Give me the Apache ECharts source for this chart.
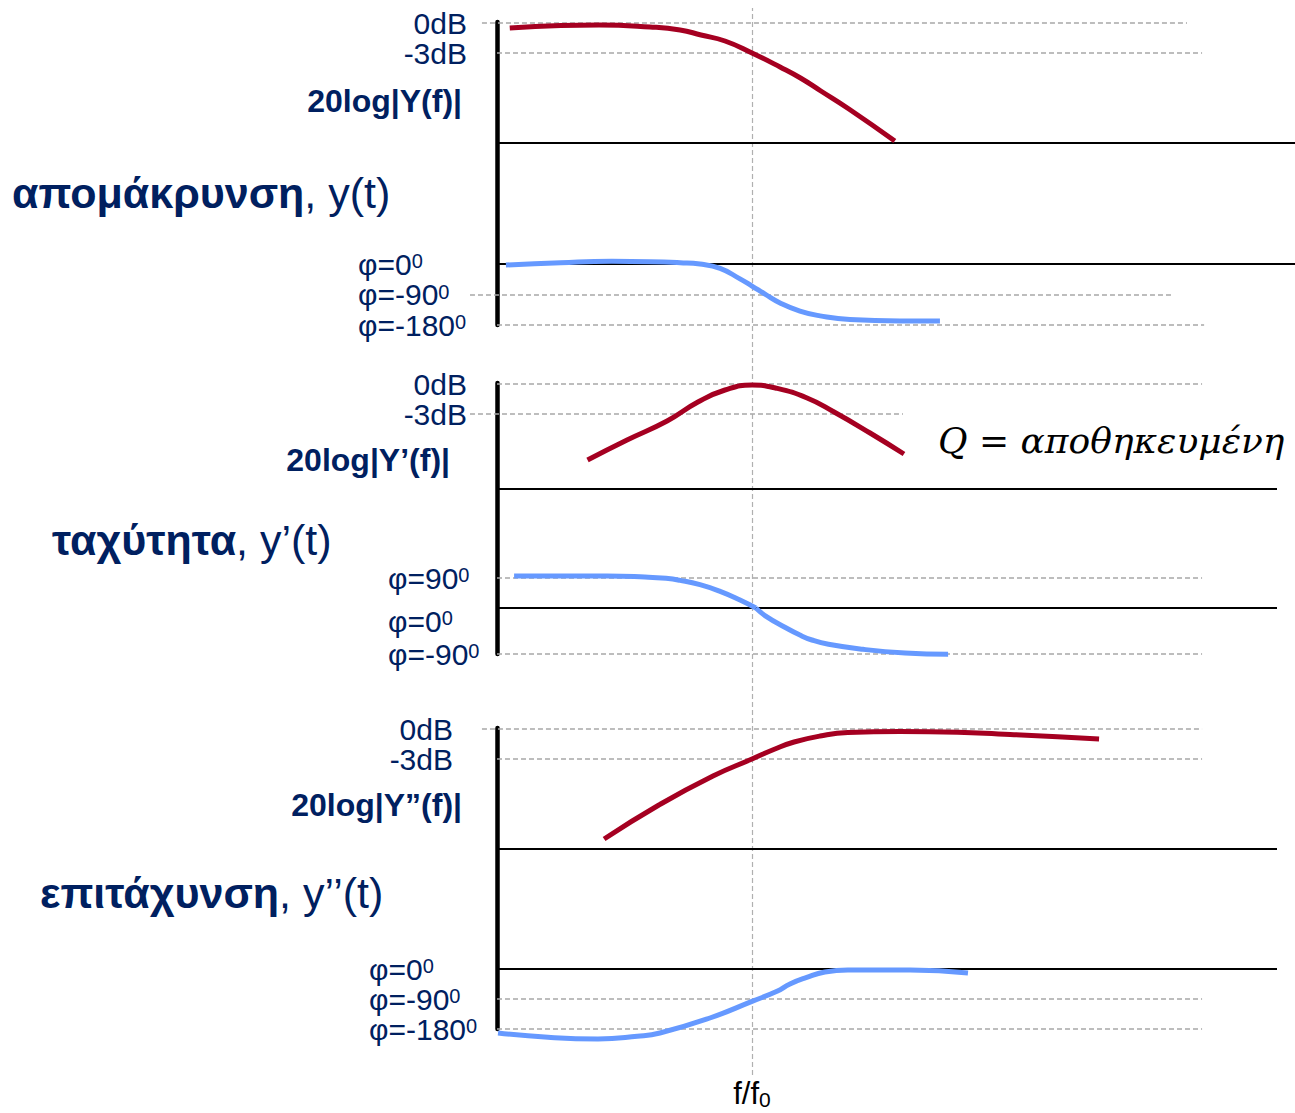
<!DOCTYPE html>
<html><head><meta charset="utf-8">
<script src="https://cdn.jsdelivr.net/npm/echarts@6/dist/echarts.min.js"></script>
<style>html,body{margin:0;padding:0;background:#fff}#c{width:1295px;height:1113px}</style>
</head><body><div id="c"></div>
<script>
// x = log10(f/f0) ; magnitude in dB ; phase in degrees
const dispMag   = [[-0.95,-0.5],[-0.75,-0.25],[-0.6,-0.2],[-0.4,-0.4],[-0.282,-0.7],[-0.2,-1.2],[-0.106,-1.8],[0,-3.0],[0.11,-4.4],[0.19,-5.5],[0.27,-6.8],[0.38,-8.6],[0.56,-11.8]];
const dispPhase = [[-0.965,-3],[-0.75,4],[-0.55,8],[-0.4,7],[-0.282,4],[-0.204,0],[-0.125,-13],[-0.047,-44],[0,-65],[0.051,-89],[0.11,-115],[0.188,-139],[0.267,-153],[0.384,-164],[0.58,-168],[0.737,-168]];
const velMag    = [[-0.645,-7.6],[-0.49,-5.6],[-0.333,-3.7],[-0.212,-1.8],[-0.106,-0.6],[0,-0.1],[0.092,-0.4],[0.216,-1.4],[0.322,-2.8],[0.463,-4.9],[0.596,-7.0]];
const velPhase  = [[-0.933,96],[-0.569,96],[-0.42,93],[-0.337,89],[-0.282,83],[-0.204,70],[-0.125,50],[-0.047,24],[0.015,0],[0.06,-18],[0.125,-36.6],[0.188,-53],[0.235,-62.6],[0.3,-71],[0.435,-80.8],[0.6,-88],[0.769,-90.6]];
const accMag    = [[-0.58,-11.0],[-0.365,-7.6],[-0.153,-4.7],[0,-3.0],[0.09,-2.0],[0.165,-1.3],[0.267,-0.7],[0.376,-0.35],[0.58,-0.25],[0.694,-0.27],[1.012,-0.55],[1.361,-1.0]];
const accPhase  = [[-0.996,-192],[-0.8,-205],[-0.604,-210],[-0.45,-202],[-0.361,-192],[-0.165,-147],[0,-97],[0.098,-67],[0.149,-45],[0.212,-26],[0.286,-9],[0.376,-3],[0.62,-3],[0.847,-12]];

const magTicks = [0, -3];
const dispPhaseTicks = [0, -90, -180];
const velPhaseTicksUpper = [90];
const velPhaseTicksLower = [-90];
const velPhaseTickZero = [0];
const accPhaseTicks = [0, -90, -180];
const sectionNames = [['απομάκρυνση', ', y(t)'], ['ταχύτητα', ', y’(t)'], ['επιτάχυνση', ', y’’(t)']];
const magTitles = ['20log|Y(f)|', '20log|Y’(f)|', '20log|Y”(f)|'];
const fAxisLabel = ['f/f', '0'];
const qText = ['Q', '=', 'αποθηκευμένη'];
const f0Value = [0];
const floorDb = [-12, -10.5, -12];

// ---- style / layout ----
const NAVY = '#002060', RED = '#a50021', BLUE = '#6699ff';
const FF = '"Liberation Sans", Arial, sans-serif';
const PX_PER_DEC = 255, AXIS_X = 497, XMIN = -1.12;
const EXT = (-1 - XMIN) * PX_PER_DEC;          // px between grid left and the drawn vertical axis
const DASH = {color: '#a8a8a8', width: 1.5, type: [5, 3]};
const SOLID = {color: '#000', width: 2, type: 'solid'};
function yr(a, b, top, bottom) {
  const k = (b[1] - a[1]) / (b[0] - a[0]);
  return {max: a[0] + (top - a[1]) / k, min: a[0] + (bottom - a[1]) / k};
}
const G = [
  {top: 22, bottom: 325, right: 1295},
  {top: 383, bottom: 654, right: 1277},
  {top: 728, bottom: 1029, right: 1277},
  {top: 8, bottom: 1075, right: 1277}
];
const gl = AXIS_X - EXT;
const xMax = g => XMIN + (g.right - gl) / PX_PER_DEC;
const grid = G.map(g => ({left: gl, top: g.top, width: g.right - gl, height: g.bottom - g.top, outerBoundsMode: 'none', containLabel: false}));

const xAxis = G.map((g, i) => ({
  type: 'value', gridIndex: i, min: XMIN, max: xMax(g), position: 'bottom',
  axisLine: {show: false, onZero: false}, axisTick: {show: false}, splitLine: {show: false},
  axisLabel: i === 3 ? {
    show: true, customValues: f0Value, margin: 1, hideOverlap: false,
    formatter: () => '{m|' + fAxisLabel[0] + '}{s|' + fAxisLabel[1] + '}',
    rich: {m: {fontSize: 31, fontFamily: FF, color: '#000', lineHeight: 34},
           s: {fontSize: 21, fontFamily: FF, color: '#000', lineHeight: 20, verticalAlign: 'bottom'}}
  } : {show: false}
}));

const phiRich = {
  m: {fontSize: 30, fontFamily: FF, color: NAVY, lineHeight: 26},
  s: {fontSize: 20, fontFamily: FF, color: NAVY, lineHeight: 8, verticalAlign: 'top'}
};
const phiFmt = v => '{m|φ=' + v + '}{s|0}';
function magAxis(gi, range, margin) {
  return {type: 'value', gridIndex: gi, position: 'left', offset: -EXT, min: range.min, max: range.max,
    axisLine: {show: true, onZero: false, lineStyle: {color: '#000', width: 4.5}},
    axisTick: {show: false}, splitLine: {show: false},
    axisLabel: {show: true, customValues: magTicks, margin, align: 'right', fontSize: 30, lineHeight: 28, fontFamily: FF, color: NAVY,
      hideOverlap: false, showMinLabel: true, showMaxLabel: true, formatter: v => v + 'dB'}};
}
function phaseAxis(gi, range, ticks, margin, vAlign) {
  return {type: 'value', gridIndex: gi, position: 'left', offset: -EXT, min: range.min, max: range.max,
    axisLine: {show: false, onZero: false}, axisTick: {show: false}, splitLine: {show: false},
    axisLabel: {show: true, customValues: ticks, margin, align: 'left', verticalAlign: vAlign || 'middle',
      hideOverlap: false, showMinLabel: true, showMaxLabel: true, formatter: phiFmt, rich: phiRich}};
}
const r1m = yr([0, 23], [-3, 53], G[0].top, G[0].bottom);
const r1p = yr([0, 264], [-180, 325], G[0].top, G[0].bottom);
const r2m = yr([0, 384], [-3, 414], G[1].top, G[1].bottom);
const r2u = yr([90, 578], [0, 608], G[1].top, G[1].bottom);
const r2l = yr([0, 608], [-90, 654], G[1].top, G[1].bottom);
const r3m = yr([0, 729], [-3, 759], G[2].top, G[2].bottom);
const r3p = yr([0, 969], [-180, 1029], G[2].top, G[2].bottom);

const yAxis = [
  magAxis(0, r1m, 30),                                   // 0
  phaseAxis(0, r1p, dispPhaseTicks, 139),                // 1
  magAxis(1, r2m, 30),                                   // 2
  phaseAxis(1, r2u, velPhaseTicksUpper, 109),            // 3
  phaseAxis(1, r2l, velPhaseTicksLower, 109),            // 4
  phaseAxis(1, r2l, velPhaseTickZero, 109, 'top'),       // 5
  magAxis(2, r3m, 44),                                   // 6
  phaseAxis(2, r3p, accPhaseTicks, 128),                 // 7
  {type: 'value', gridIndex: 3, min: 0, max: 1, show: false} // 8
];

function hl(y, x0, x1, style) { return [{coord: [x0, y], lineStyle: style}, {coord: [x1, y]}]; }
function ml(lines) { return {symbol: ['none', 'none'], silent: true, animation: false, label: {show: false}, emphasis: {disabled: true}, data: lines}; }
function curve(data, xi, yi, color, lines) {
  return {type: 'line', xAxisIndex: xi, yAxisIndex: yi, data, smooth: 0.5, showSymbol: false, symbol: 'none',
    clip: false, silent: true, animation: false, z: 5, lineStyle: {color, width: 5, cap: 'butt'},
    markLine: ml(lines || [])};
}
const xm0 = xMax(G[0]), xm1 = xMax(G[1]), xm2 = xMax(G[2]);

const velUpper = velPhase.filter(p => p[1] >= 0);
const velLower = velPhase.filter(p => p[1] <= 0);

const series = [
  {type: 'line', xAxisIndex: 3, yAxisIndex: 8, data: [], z: 1, silent: true,
   markLine: {symbol: ['none', 'none'], silent: true, animation: false, label: {show: false},
     data: f0Value.map(v => ({xAxis: v, lineStyle: {color: '#b0b0b0', width: 1.2, type: [5, 3]}}))}},
  curve(dispMag, 0, 0, RED, [hl(magTicks[0], -1.059, 1.706, DASH), hl(magTicks[1], -1, 1.765, DASH), hl(floorDb[0], -1, xm0, SOLID)]),
  curve(dispPhase, 0, 1, BLUE, [hl(0, -1, xm0, SOLID), hl(-90, -1.106, 1.647, DASH), hl(-180, -1, 1.773, DASH)]),
  curve(velMag, 1, 2, RED, [hl(magTicks[0], -1, 1.765, DASH), hl(magTicks[1], -1.106, 0.592, DASH), hl(floorDb[1], -1, xm1, SOLID)]),
  curve(velUpper, 1, 3, BLUE, [hl(90, -1, 1.765, DASH), hl(0, -1, xm1, SOLID)]),
  curve(velLower, 1, 4, BLUE, [hl(-90, -1, 1.765, DASH)]),
  curve(accMag, 2, 6, RED, [hl(magTicks[0], -1.059, 1.765, DASH), hl(magTicks[1], -1, 1.765, DASH), hl(floorDb[2], -1, xm2, SOLID)]),
  curve(accPhase, 2, 7, BLUE, [hl(0, -1, xm2, SOLID), hl(-90, -1, 1.765, DASH), hl(-180, -1, 1.765, DASH)])
];

const secRich = {
  b: {fontSize: 43, fontWeight: 'bold', fontFamily: FF, fill: NAVY, color: NAVY},
  r: {fontSize: 43, fontFamily: FF, fill: NAVY, color: NAVY}
};
const secPos = [[12, 193], [52, 540], [40, 893]];
const titlePos = [[462, 101], [450, 460], [462, 805]];
const graphic = [];
sectionNames.forEach((s, i) => graphic.push({
  type: 'text', x: secPos[i][0], y: secPos[i][1], silent: true,
  style: {text: '{b|' + s[0] + '}{r|' + s[1] + '}', rich: secRich, align: 'left', verticalAlign: 'middle', fill: NAVY}
}));
magTitles.forEach((t, i) => graphic.push({
  type: 'text', x: titlePos[i][0], y: titlePos[i][1], silent: true,
  style: {text: t, fontSize: 32, fontWeight: 'bold', fontFamily: FF, fill: NAVY, align: 'right', verticalAlign: 'middle'}
}));
const QF = '"DejaVu Serif", "Liberation Serif", serif';
graphic.push({
  type: 'text', x: 938, y: 440, silent: true,
  style: {text: '{i|' + qText[0] + ' }{n|' + qText[1] + ' }{i|' + qText[2] + '}',
    rich: {i: {fontSize: 36, fontStyle: 'italic', fontFamily: QF, fill: '#000', color: '#000'},
           n: {fontSize: 36, fontFamily: QF, fill: '#000', color: '#000'}},
    align: 'left', verticalAlign: 'middle', fill: '#000'}
});

const chart = echarts.init(document.getElementById('c'), null, {renderer: 'svg'});
chart.setOption({animation: false, backgroundColor: '#fff', grid, xAxis, yAxis, series, graphic});
</script></body></html>
